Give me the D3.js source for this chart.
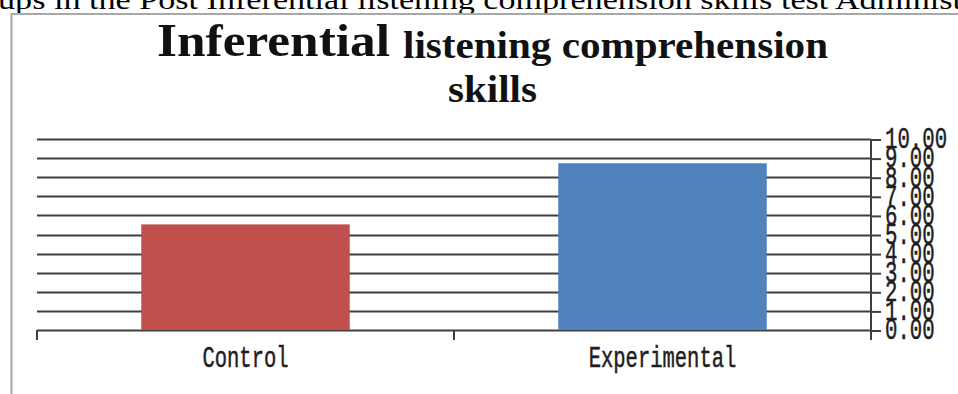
<!DOCTYPE html>
<html>
<head>
<meta charset="utf-8">
<script src="https://cdn.jsdelivr.net/npm/d3@7"></script>
<style>
  html, body { margin: 0; padding: 0; background: #fff; overflow: hidden; }
  svg { display: block; }
</style>
</head>
<body>
<script>
// Group means on the inferential listening comprehension test
const categories = ["Control", "Experimental"];
const values = [5.53, 8.73];
const barColors = ["#C0504D", "#4F81BD"];
const yTicks = [0, 1, 2, 3, 4, 5, 6, 7, 8, 9, 10];

// Caption line running above the figure and the chart title pieces
const captionText = "ups in the Post Inferential listening comprehension skills test Administ";
const titleLead = "Inferential";
const titleRest = "listening comprehension";
const titleLine2 = "skills";

const W = 958, H = 394;
const plot = { left: 37, right: 871, top: 139, bottom: 330 };
const textStretch = 1.42;

const svg = d3.select("body").append("svg")
  .attr("width", W).attr("height", H);

// caption text of the surrounding document, clipped at the top edge
svg.append("text")
  .attr("x", -2).attr("y", 9)
  .attr("textLength", 964).attr("lengthAdjust", "spacingAndGlyphs")
  .style("font-family", "'Liberation Serif', 'Times New Roman', serif")
  .style("font-size", "27px")
  .attr("fill", "#000")
  .text(captionText);

// chart frame (top and left border)
const frame = svg.append("g").attr("stroke", "#a8a8a8").attr("stroke-width", 2).attr("fill", "none");
frame.append("line").attr("x1", 11).attr("x2", W).attr("y1", 14).attr("y2", 14);
frame.append("line").attr("x1", 11.5).attr("x2", 11.5).attr("y1", 13).attr("y2", H);

// title
const titleFont = "'Liberation Serif', 'Times New Roman', serif";
svg.append("text")
  .attr("x", 157).attr("y", 56)
  .attr("textLength", 233).attr("lengthAdjust", "spacingAndGlyphs")
  .style("font-family", titleFont).style("font-weight", "bold").style("font-size", "47px")
  .attr("fill", "#111")
  .text(titleLead);
svg.append("text")
  .attr("x", 403).attr("y", 58)
  .attr("textLength", 425).attr("lengthAdjust", "spacingAndGlyphs")
  .style("font-family", titleFont).style("font-weight", "bold").style("font-size", "37px")
  .attr("fill", "#111")
  .text(titleRest);
svg.append("text")
  .attr("x", 448).attr("y", 102)
  .attr("textLength", 89).attr("lengthAdjust", "spacingAndGlyphs")
  .style("font-family", titleFont).style("font-weight", "bold").style("font-size", "37px")
  .attr("fill", "#111")
  .text(titleLine2);

// scales
const y = d3.scaleLinear().domain([0, 10]).range([plot.bottom, plot.top]);
const xCat = d3.scaleBand().domain(categories).range([plot.left, plot.right]).padding(0);
const xBar = d3.scaleBand().domain(categories).range([plot.left, plot.right])
  .paddingInner(0.5).paddingOuter(0.25);

const lineColor = "#3f3f3f";

// horizontal gridlines
svg.append("g").selectAll("line").data(yTicks).join("line")
  .attr("x1", plot.left).attr("x2", plot.right)
  .attr("y1", d => Math.round(y(d)) + 0.5).attr("y2", d => Math.round(y(d)) + 0.5)
  .attr("stroke", lineColor).attr("stroke-width", 2);

// bars
svg.append("g").selectAll("rect").data(categories).join("rect")
  .attr("x", d => xBar(d))
  .attr("width", xBar.bandwidth())
  .attr("y", (d, i) => y(values[i]))
  .attr("height", (d, i) => y(0) - y(values[i]))
  .attr("fill", (d, i) => barColors[i]);

// right value axis
const yAxis = d3.axisRight(y)
  .tickValues(yTicks)
  .tickFormat(d3.format(".2f"))
  .tickSize(10)
  .tickSizeOuter(0)
  .tickPadding(4);
const gy = svg.append("g").attr("transform", `translate(${plot.right},0)`).call(yAxis);
gy.select(".domain").remove();
gy.selectAll(".tick line").attr("stroke", lineColor).attr("stroke-width", 2)
  .attr("transform", "translate(0,0.5)");
gy.selectAll(".tick text")
  .attr("fill", "#1e1e1e")
  .attr("stroke", "#1e1e1e").attr("stroke-width", 0.35)
  .attr("dy", "0.30em")
  .attr("transform", `scale(1,${textStretch})`)
  .style("font-family", "'Liberation Mono', 'Courier New', monospace")
  .style("font-size", "20.7px");
svg.append("line")
  .attr("x1", plot.right).attr("x2", plot.right)
  .attr("y1", y(10)).attr("y2", plot.bottom + 10)
  .attr("stroke", lineColor).attr("stroke-width", 2);

// category axis: ticks at band edges, labels centred in each band
const edges = categories.map(c => xCat(c));
svg.append("g").selectAll("line").data(edges).join("line")
  .attr("x1", d => d).attr("x2", d => d)
  .attr("y1", plot.bottom).attr("y2", plot.bottom + 10)
  .attr("stroke", lineColor).attr("stroke-width", 2);

svg.append("g").selectAll("text").data(categories).join("text")
  .attr("transform", d => `translate(${xCat(d) + xCat.bandwidth() / 2},367) scale(1,${textStretch})`)
  .attr("text-anchor", "middle")
  .attr("fill", "#1e1e1e")
  .attr("stroke", "#1e1e1e").attr("stroke-width", 0.35)
  .style("font-family", "'Liberation Mono', 'Courier New', monospace")
  .style("font-size", "20.5px")
  .text(d => d);
</script>
</body>
</html>
